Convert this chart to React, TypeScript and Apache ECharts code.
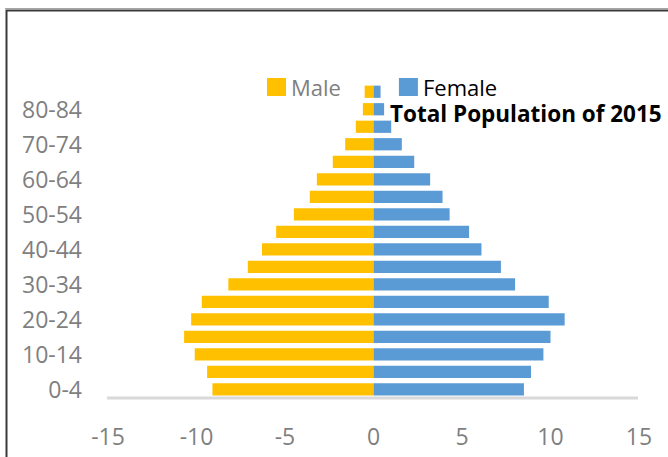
import React, { useEffect, useRef } from "react";
import * as echarts from "echarts";

const categories = [
  "0-4", "5-9", "10-14", "15-19", "20-24", "25-29", "30-34", "35-39", "40-44",
  "45-49", "50-54", "55-59", "60-64", "65-69", "70-74", "75-79", "80-84", "85+",
];
const maleValues = [
  -9.1, -9.4, -10.1, -10.7, -10.3, -9.7, -8.2, -7.1, -6.3,
  -5.5, -4.5, -3.6, -3.2, -2.3, -1.6, -1.0, -0.6, -0.5,
];
const femaleValues = [
  8.5, 8.9, 9.6, 10.0, 10.8, 9.9, 8.0, 7.2, 6.1,
  5.4, 4.3, 3.9, 3.2, 2.3, 1.6, 1.0, 0.6, 0.4,
];
const xTicks = { min: -15, max: 15, interval: 5 };
const titleText = "Total Population of 2015";

const FONT = "'Open Sans', 'Noto Sans', sans-serif";

export default function App() {
  const ref = useRef<HTMLDivElement>(null);
  useEffect(() => {
    if (!ref.current) return;
    const chart = echarts.init(ref.current, undefined, { renderer: "svg" });
    chart.setOption({
      animation: false,
      backgroundColor: "#ffffff",
      textStyle: { fontFamily: FONT },
      title: {
        text: titleText,
        left: 390,
        top: 103,
        padding: 0,
        textStyle: {
          fontFamily: FONT,
          fontSize: 22.5,
          lineHeight: 20,
          fontWeight: "bold",
          color: "#000000",
        },
      },
      legend: {
        left: 267,
        top: 76,
        padding: 0,
        itemWidth: 19,
        itemHeight: 18,
        itemGap: 58,
        icon: "rect",
        textStyle: { fontFamily: FONT, fontSize: 22, lineHeight: 18, padding: [0, 0, 0, 0] },
        data: [
          { name: "Male", textStyle: { color: "#7f7f7f" } },
          { name: "Female", textStyle: { color: "#000000" } },
        ],
      },
      grid: { left: 108, right: 29, top: 83, bottom: 59, containLabel: false },
      xAxis: {
        type: "value",
        min: xTicks.min,
        max: xTicks.max,
        interval: xTicks.interval,
        splitLine: { show: false },
        axisLine: { show: false },
        axisTick: { show: false },
        axisLabel: { color: "#7f7f7f", fontSize: 23, fontFamily: FONT, margin: 26 },
      },
      yAxis: {
        type: "category",
        data: categories,
        axisLine: { show: false },
        axisTick: { show: false },
        axisLabel: { color: "#7f7f7f", fontSize: 23, fontFamily: FONT, margin: 26, interval: 1 },
      },
      series: [
        {
          name: "Male",
          type: "bar",
          data: maleValues,
          barGap: "-100%",
          barCategoryGap: "30%",
          itemStyle: { color: "#FFC000" },
        },
        {
          name: "Female",
          type: "bar",
          data: femaleValues,
          barGap: "-100%",
          barCategoryGap: "30%",
          itemStyle: { color: "#5B9BD5" },
        },
      ],
      graphic: [
        {
          type: "line",
          shape: { x1: 107, y1: 398, x2: 638, y2: 398 },
          style: { stroke: "#d9d9d9", lineWidth: 3 },
          z: 1,
        },
        {
          type: "line",
          shape: { x1: 5, y1: 8.5, x2: 668, y2: 8.5 },
          style: { stroke: "#a6a6a6", lineWidth: 1 },
        },
        {
          type: "rect",
          shape: { x: 6.5, y: 10.5, width: 700, height: 500 },
          style: { fill: "none", stroke: "#3a3a3a", lineWidth: 2 },
        },
      ],
    });
    return () => chart.dispose();
  }, []);
  return (
    <div
      ref={ref}
      style={{ position: "absolute", left: 0, top: 0, width: 668, height: 457 }}
    />
  );
}
